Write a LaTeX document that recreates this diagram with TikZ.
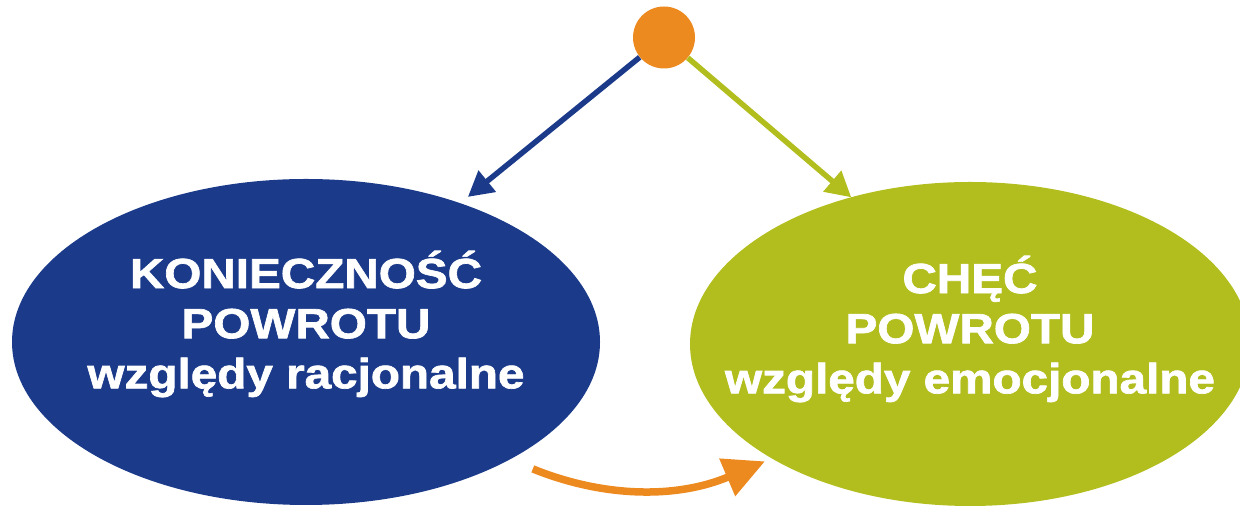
\documentclass[tikz,border=0pt]{standalone}
\usepackage{fontspec}
\setmainfont[FakeStretch=1.13,BoldFeatures={FakeBold=1.6}]{Liberation Sans}
\usetikzlibrary{arrows.meta,positioning,shapes.geometric}
\definecolor{granat}{HTML}{1B3A8A}
\definecolor{oliwka}{HTML}{B2BE1E}
\definecolor{pomarancz}{HTML}{EC8A20}

\begin{document}
\begin{tikzpicture}[>={Triangle[length=0.5cm,width=0.53cm]}]
  \tikzstyle{owal}=[ellipse,inner sep=0pt,outer sep=0pt]
  \tikzstyle{napis}=[text=white,font=\bfseries\fontsize{24}{28.5}\selectfont,align=center]
  \tikzstyle{strzalka}=[line width=0.11cm,->]
  \useasboundingbox (0,0) rectangle (24.8,10.14);
  \node[owal,fill=granat,minimum width=11.76cm,minimum height=6.52cm] (lewy) at (6.12,3.30) {};
  \node[owal,fill=oliwka,minimum width=11.2cm,minimum height=6.48cm] (prawy) at (19.40,3.26) {};
  \node[circle,fill=pomarancz,minimum size=1.24cm,inner sep=0pt] (kropka) at (13.28,9.39) {};
  \node[napis] (lewyTxt) at ([yshift=0.36cm]lewy.center) {KONIECZNOŚĆ\\POWROTU\\względy racjonalne};
  \node[napis] (prawyTxt) at ([yshift=0.30cm]prawy.center) {CHĘĆ\\POWROTU\\względy emocjonalne};
  \draw[strzalka,granat,shorten >=0.2cm] (kropka) -- (lewy.42);
  \draw[strzalka,oliwka] (kropka) -- (prawy.129);
  \draw[line width=0.15cm,pomarancz,-{Triangle[length=0.82cm,width=0.78cm]},shorten <=0.5cm,shorten >=0.15cm] (lewy.330) to[out=-22,in=203] (prawy.210);
\end{tikzpicture}
\end{document}
